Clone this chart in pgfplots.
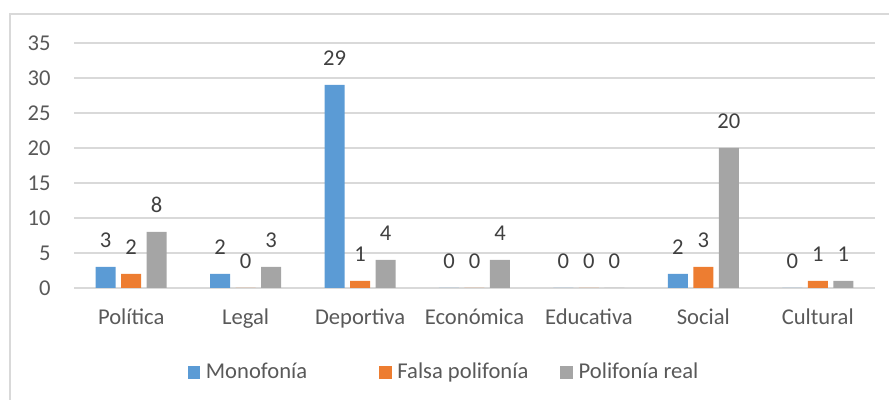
\documentclass[border=0pt]{standalone}
\usepackage{fontspec}
\setmainfont{Carlito}
\usepackage{pgfplots}
\pgfplotsset{compat=1.18}
\definecolor{cblue}{HTML}{5B9BD5}
\definecolor{corange}{HTML}{ED7D31}
\definecolor{cgray}{HTML}{A5A5A5}
\definecolor{gridc}{HTML}{D9D9D9}
\definecolor{tickc}{HTML}{595959}
\definecolor{labc}{HTML}{404040}
\newcommand{\cfont}{\fontsize{11.3pt}{13.5pt}\selectfont}
\begin{document}
\cfont
\begin{tikzpicture}
% 1px = 0.5pt, axis origin at pixel (74,288)
\useasboundingbox (-37pt,-56pt) rectangle (407.5pt,144pt);
\draw[gridc, line width=0.75pt] (-32pt,-60pt) -- (-32pt,137pt) -- (410pt,137pt);
\begin{axis}[
  scale only axis,
  width=400.5pt, height=122.5pt,
  xmin=-0.5, xmax=6.5, ymin=0, ymax=35,
  ybar=2.75pt, bar width=10pt,
  axis line style={draw=none},
  major tick length=0pt,
  xtick=data,
  xticklabels={Política,Legal,Deportiva,Económica,Educativa,Social,Cultural},
  ytick={0,5,...,35},
  ymajorgrids, grid style={gridc, line width=0.6pt},
  tick label style={font=\cfont, text=tickc, inner sep=0pt},
  /pgf/number format/assume math mode=true,
  xticklabel style={anchor=base, yshift=-18.5pt},
  yticklabel style={anchor=east, xshift=-11.5pt},
  nodes near coords,
  nodes near coords style={font=\cfont, text=labc, anchor=base, inner sep=0pt, yshift=9.5pt},
  clip=false,
  legend columns=3,
  legend style={draw=none, at={(0.4607,-0.3449)}, anchor=center,
    font=\cfont, text=tickc,
    nodes={inner sep=0pt, text height=8.5pt, text depth=2pt},
    /tikz/every odd column/.append style={column sep=2.8pt},
    /tikz/every even column/.append style={column sep=16pt}},
  legend image code/.code={\fill[#1] (0pt,-3.175pt) rectangle (6.35pt,3.175pt);},
]
\addplot[fill=cblue, draw=none] coordinates {(0,3) (1,2) (2,29) (3,0) (4,0) (5,2) (6,0)};
\addlegendentry{Monofonía\rule{20pt}{0pt}}
\addplot[fill=corange, draw=none] coordinates {(0,2) (1,0) (2,1) (3,0) (4,0) (5,3) (6,1)};
\addlegendentry{Falsa polifonía}
\addplot[fill=cgray, draw=none] coordinates {(0,8) (1,3) (2,4) (3,4) (4,0) (5,20) (6,1)};
\addlegendentry{Polifonía real}
\end{axis}
\end{tikzpicture}
\end{document}
